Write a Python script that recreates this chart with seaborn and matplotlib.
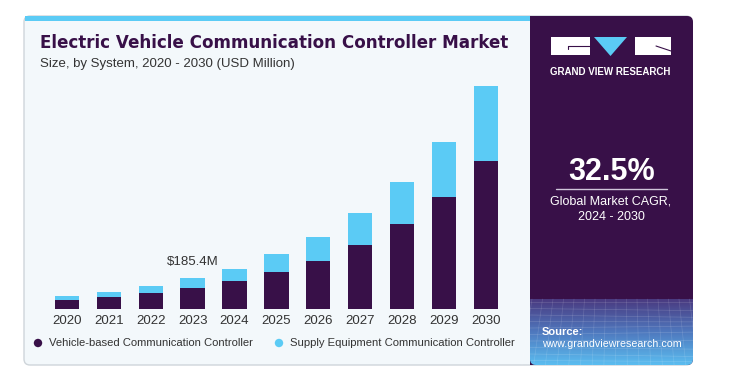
import numpy as np
import pandas as pd
import matplotlib
matplotlib.use("Agg")
import matplotlib.pyplot as plt
import seaborn as sns
from matplotlib.patches import FancyBboxPatch, Rectangle, Polygon, Circle
from matplotlib.lines import Line2D

# ---- data ----
years = ["2020", "2021", "2022", "2023", "2024", "2025", "2026", "2027", "2028", "2029", "2030"]
vehicle = [54.7, 70.3, 93.7, 123.0, 164.0, 216.7, 285.0, 378.7, 499.7, 659.8, 866.7]
supply = [23.4, 31.2, 42.9, 62.4, 72.2, 107.4, 138.6, 183.5, 244.0, 322.3, 441.2]
series_names = ["Vehicle-based Communication Controller", "Supply Equipment Communication Controller"]
annot_year = "2023"
annot_label = "$185.4M"
title = "Electric Vehicle Communication Controller Market"
subtitle = "Size, by System, 2020 - 2030 (USD Million)"
cagr_value = "32.5%"
cagr_text = "Global Market CAGR,\n2024 - 2030"

DARK = "#381048"
LIGHT = "#5BCBF5"
BG = "#F3F8FB"

df = pd.DataFrame({"year": years, "vehicle": vehicle, "supply": supply})
df["total"] = df["vehicle"] + df["supply"]

sns.set_theme(style="white")
plt.rcParams["font.family"] = ["Liberation Sans", "DejaVu Sans"]

fig = plt.figure(figsize=(7.54, 3.70), dpi=100)
fig.patch.set_facecolor("white")

# background canvas in pixel coordinates
bg = fig.add_axes([0, 0, 1, 1], zorder=0)
bg.set_xlim(0, 754)
bg.set_ylim(370, 0)
bg.axis("off")

card = FancyBboxPatch((24, 16), 668, 349, boxstyle="round,pad=0,rounding_size=6",
                      fc=BG, ec="#CFD5DA", lw=1.0)
bg.add_patch(card)
bg.add_patch(Rectangle((24.5, 16), 506, 4.5, fc=LIGHT, ec="none"))

panel = FancyBboxPatch((530, 16), 163, 349, boxstyle="round,pad=0,rounding_size=6",
                       fc=DARK, ec="none")
bg.add_patch(panel)
bg.add_patch(Rectangle((530, 16), 12, 349, fc=DARK, ec="none"))

# gradient source area
n = 100
c_top = np.array(matplotlib.colors.to_rgb("#4A3A80"))
c_mid = np.array(matplotlib.colors.to_rgb("#4F78BE"))
c_bot = np.array(matplotlib.colors.to_rgb("#5BBDF0"))
t = np.linspace(0, 1, n)[:, None]
grad = np.where(t < 0.5, c_top * (1 - 2 * t) + c_mid * (2 * t), c_mid * (2 - 2 * t) + c_bot * (2 * t - 1))
grad = grad[:, None, :]
im = bg.imshow(grad, extent=(530, 693, 365, 299), aspect="auto", zorder=2)
clip = FancyBboxPatch((530, 16), 163, 349, boxstyle="round,pad=0,rounding_size=6",
                      fc="none", ec="none", transform=bg.transData)
bg.add_patch(clip)
im.set_clip_path(clip)
# faint mesh
for k in range(10):
    yy = 302 + k * 6.5
    bg.plot([530, 693], [yy, yy + 2.5 * np.sin(k)], color="white", alpha=0.16, lw=0.5, zorder=3, clip_path=clip)
for k in range(16):
    xx = 532 + k * 10.5
    bg.plot([xx, xx - 10 + k * 1.2], [299, 365], color="white", alpha=0.14, lw=0.5, zorder=3)

# logo
bg.add_patch(Rectangle((551, 37), 39, 18, fc="white", ec="none", zorder=4))
bg.add_patch(Polygon([(594, 37), (627, 37), (610.5, 56)], closed=True, fc=LIGHT, ec="none", zorder=4))
bg.add_patch(Rectangle((635, 37), 36, 18, fc="white", ec="none", zorder=4))
bg.plot([568, 590], [46, 46], color=DARK, lw=0.8, zorder=5)
bg.plot([568, 568], [46, 49], color=DARK, lw=0.8, zorder=5)
bg.plot([656, 671], [46, 51], color=DARK, lw=0.8, zorder=5)
bg.text(610, 72, "GRAND VIEW RESEARCH", color="white", fontsize=7, fontweight="bold",
        ha="center", va="center", zorder=5)

# CAGR
bg.text(612, 172, cagr_value, color="white", fontsize=22, fontweight="bold",
        ha="center", va="center", zorder=5)
bg.add_line(Line2D([556, 667], [189, 189], color="#CFC6DA", lw=1, zorder=5))
bg.text(611, 209.5, cagr_text, color="white", fontsize=9, ha="center", va="center",
        linespacing=1.35, zorder=5)

# source
bg.text(542, 332, "Source:", color="white", fontsize=8, fontweight="bold", va="center", zorder=5)
bg.text(542, 344, "www.grandviewresearch.com", color="white", fontsize=7.7, va="center", zorder=5)

# title
bg.text(40, 43.5, title, color=DARK, fontsize=12.05, fontweight="bold",
        family=["DejaVu Sans"], va="center", zorder=5)
bg.text(40, 64, subtitle, color="#333333", fontsize=9.5, va="center", zorder=5)

# legend
bg.add_patch(Circle((38, 343), 4.2, fc=DARK, ec="none", zorder=5))
bg.text(49, 343, series_names[0], color="#333333", fontsize=8.1, va="center", zorder=5)
bg.add_patch(Circle((279, 343), 4.2, fc=LIGHT, ec="none", zorder=5))
bg.text(290, 343, series_names[1], color="#333333", fontsize=8.1, va="center", zorder=5)

# chart
ax = fig.add_axes([0.0609, 0.164, 0.6114, 0.6227], zorder=2)
ax.patch.set_alpha(0)
sns.barplot(data=df, x="year", y="total", color=LIGHT, width=0.58, saturation=1,
            linewidth=0, ax=ax)
sns.barplot(data=df, x="year", y="vehicle", color=DARK, width=0.58, saturation=1,
            linewidth=0, ax=ax)
ax.set_xlim(-0.5, 10.5)
ax.set_ylim(0, 1350)
ax.set_xlabel("")
ax.set_ylabel("")
ax.set_yticks([])
for s in ax.spines.values():
    s.set_visible(False)
ax.tick_params(axis="x", length=0, pad=4, labelsize=9.5, labelcolor="#333333")

i = years.index(annot_year)
ax.annotate(annot_label, xy=(i, df["total"][i]), xytext=(0, 11.3), textcoords="offset points",
            ha="center", va="center", fontsize=9.5, color="#333333")

fig.savefig("out.png", dpi=100)
